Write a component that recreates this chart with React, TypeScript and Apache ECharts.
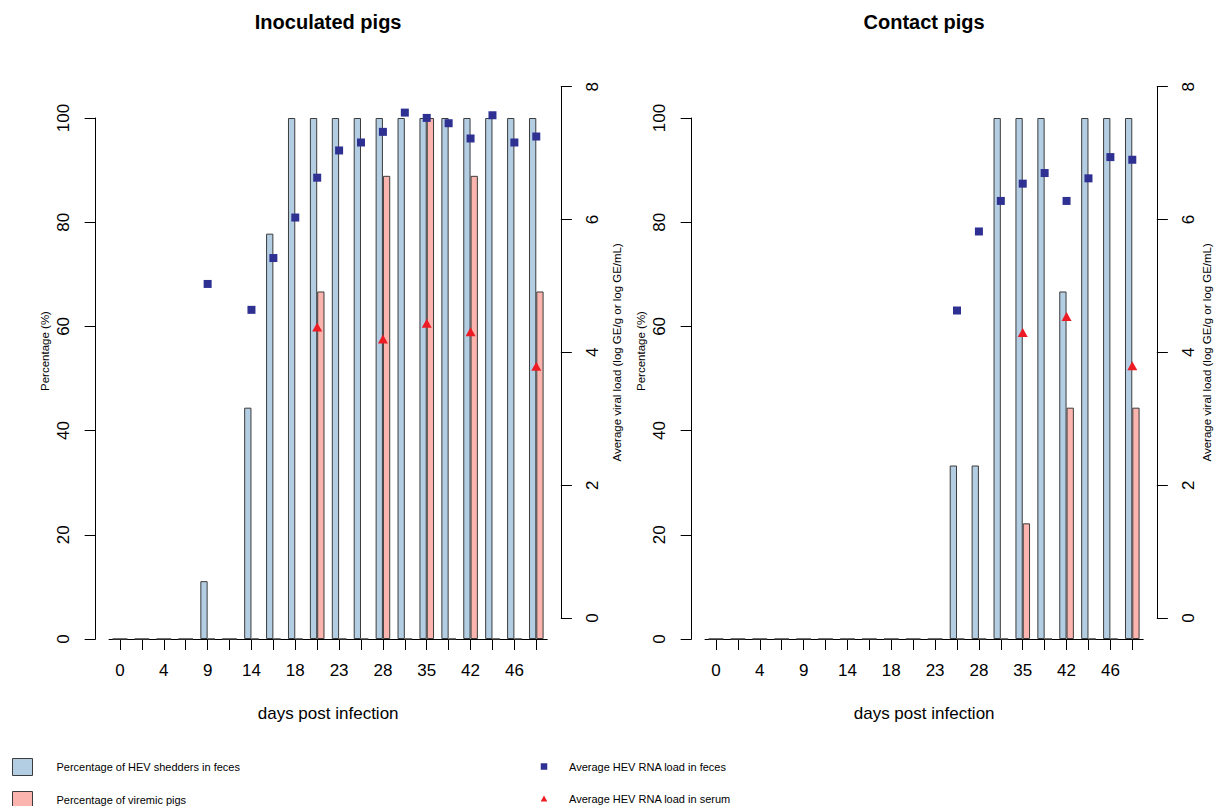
import React, { useEffect, useRef } from 'react';
import * as echarts from 'echarts';

// ---- data ----
const days = ['0', '2', '4', '7', '9', '11', '14', '16', '18', '21', '23', '25', '28', '32', '35', '39', '42', '44', '46', '49'];

const inocShedders = [0, 0, 0, 0, 11.1, 0, 44.4, 77.8, 100, 100, 100, 100, 100, 100, 100, 100, 100, 100, 100, 100];
const inocViremic = [0, 0, 0, 0, 0, 0, 0, 0, 0, 66.7, 0, 0, 88.9, 0, 100, 0, 88.9, 0, 0, 66.7];
const inocFecesLoad = [null, null, null, null, 5.03, null, 4.64, 5.42, 6.03, 6.63, 7.04, 7.16, 7.32, 7.61, 7.53, 7.45, 7.22, 7.57, 7.16, 7.25];
const inocSerumLoad = [null, null, null, null, null, null, null, null, null, 4.38, null, null, 4.2, null, 4.44, null, 4.31, null, null, 3.79];

const contShedders = [0, 0, 0, 0, 0, 0, 0, 0, 0, 0, 0, 33.3, 33.3, 100, 100, 100, 66.7, 100, 100, 100];
const contViremic = [0, 0, 0, 0, 0, 0, 0, 0, 0, 0, 0, 0, 0, 0, 22.2, 0, 44.4, 0, 0, 44.4];
const contFecesLoad = [null, null, null, null, null, null, null, null, null, null, null, 4.63, 5.82, 6.28, 6.54, 6.7, 6.28, 6.62, 6.94, 6.9];
const contSerumLoad = [null, null, null, null, null, null, null, null, null, null, null, null, null, null, 4.3, null, 4.54, null, null, 3.8];

const panelTitles = ['Inoculated pigs', 'Contact pigs'];
const xTitle = 'days post infection';
const yLeftTitle = 'Percentage (%)';
const yRightTitle = 'Average viral load (log GE/g or log GE/mL)';
const nameShed = 'Percentage of HEV shedders in feces';
const nameVir = 'Percentage of viremic pigs';
const nameFeces = 'Average HEV RNA load in feces';
const nameSerum = 'Average HEV RNA load in serum';

const FONT = '"Liberation Sans", Arial, Helvetica, sans-serif';
const BLUE = '#B3CDE3';
const PINK = '#FBB4AE';
const NAVY = '#2E3192';
const RED = '#ED1C24';
const EDGE = '#3c3c3c';

export default function App() {
  const ref = useRef<HTMLDivElement>(null);

  useEffect(() => {
    const chart = echarts.init(ref.current!, null, { renderer: 'svg' });
    const step = 21.91;
    const firstTicks = [120, 716];
    const rightNameGaps = [50, 44];
    const panelData = [
      { shed: inocShedders, vir: inocViremic, feces: inocFecesLoad, serum: inocSerumLoad },
      { shed: contShedders, vir: contViremic, feces: contFecesLoad, serum: contSerumLoad },
    ];

    const grid: any[] = [];
    const xAxis: any[] = [];
    const yAxis: any[] = [];
    const series: any[] = [];
    const graphic: any[] = [];
    const title: any[] = [];

    panelData.forEach((p, i) => {
      const left = firstTicks[i] - step / 2;
      const width = step * days.length;
      const center = left + width / 2;
      grid.push({ left, width, top: 118, height: 521, containLabel: false, outerBoundsMode: 'none' });
      grid.push({ left, width, top: 86.7, height: 531.3, containLabel: false, outerBoundsMode: 'none' });
      const gBar = i * 2;
      const gPt = i * 2 + 1;

      xAxis.push({
        type: 'category',
        gridIndex: gBar,
        data: days,
        boundaryGap: true,
        axisLine: { show: true, lineStyle: { color: '#000', width: 1 } },
        axisTick: { show: true, alignWithLabel: true, interval: 0, length: 11, lineStyle: { color: '#000' } },
        axisLabel: { interval: 1, margin: 23, fontSize: 17, color: '#000', fontFamily: FONT },
        name: xTitle,
        nameLocation: 'middle',
        nameGap: 66,
        nameTextStyle: { fontSize: 17, color: '#000', fontFamily: FONT },
      });
      xAxis.push({ type: 'category', gridIndex: gPt, data: days, boundaryGap: true, show: false });

      yAxis.push({
        type: 'value',
        gridIndex: gBar,
        min: 0,
        max: 100,
        interval: 20,
        position: 'left',
        offset: 13.4,
        axisLine: { show: true, lineStyle: { color: '#000', width: 1 } },
        axisTick: { show: true, length: 11, lineStyle: { color: '#000' } },
        axisLabel: { rotate: 90, margin: 24, fontSize: 17, color: '#000', fontFamily: FONT },
        splitLine: { show: false },
      });
      yAxis.push({
        type: 'value',
        gridIndex: gPt,
        min: 0,
        max: 8,
        interval: 2,
        position: 'right',
        offset: 13.6,
        axisLine: { show: true, lineStyle: { color: '#000', width: 1 } },
        axisTick: { show: true, length: 11, lineStyle: { color: '#000' } },
        axisLabel: { rotate: 90, margin: 23, fontSize: 17, color: '#000', fontFamily: FONT },
        splitLine: { show: false },
        name: yRightTitle,
        nameLocation: 'middle',
        nameRotate: 90,
        nameGap: rightNameGaps[i],
        nameTextStyle: { fontSize: 11.5, color: '#000', fontFamily: FONT },
      });

      series.push({
        type: 'bar',
        name: nameShed,
        xAxisIndex: gBar,
        yAxisIndex: gBar,
        data: p.shed,
        barWidth: 7.3,
        barGap: '0%',
        itemStyle: { color: BLUE, borderColor: EDGE, borderWidth: 1 },
      });
      series.push({
        type: 'bar',
        name: nameVir,
        xAxisIndex: gBar,
        yAxisIndex: gBar,
        data: p.vir,
        barWidth: 7.3,
        barGap: '0%',
        itemStyle: { color: PINK, borderColor: EDGE, borderWidth: 1 },
      });
      series.push({
        type: 'scatter',
        name: nameFeces,
        xAxisIndex: gPt,
        yAxisIndex: gPt,
        data: p.feces,
        symbol: 'rect',
        symbolSize: 8,
        itemStyle: { color: NAVY, opacity: 1 },
      });
      series.push({
        type: 'scatter',
        name: nameSerum,
        xAxisIndex: gPt,
        yAxisIndex: gPt,
        data: p.serum,
        symbol: 'triangle',
        symbolSize: [10, 9],
        itemStyle: { color: RED, opacity: 1 },
      });

      title.push({
        text: panelTitles[i],
        left: center,
        top: 12,
        textAlign: 'center',
        padding: 0,
        textStyle: { fontSize: 20, fontWeight: 'bold', color: '#000', fontFamily: FONT },
      });

      graphic.push({
        type: 'text',
        x: left - 13.4 - 50.5,
        y: 351,
        rotation: Math.PI / 2,
        style: { text: yLeftTitle, font: `11.5px ${FONT}`, fill: '#000', align: 'center', verticalAlign: 'middle' },
      });
    });

    const option: any = {
      animation: false,
      backgroundColor: '#fff',
      title,
      grid,
      xAxis,
      yAxis,
      series,
      graphic,
      legend: [
        {
          data: [nameShed, nameVir],
          orient: 'vertical',
          left: 12,
          top: 758,
          padding: 0,
          itemWidth: 20,
          itemHeight: 17,
          itemGap: 15,
          icon: 'rect',
          selectedMode: false,
          itemStyle: { borderColor: EDGE, borderWidth: 1 },
          textStyle: { fontSize: 11, color: '#000', fontFamily: FONT, padding: [0, 0, 0, 19] },
        },
        {
          data: [
            { name: nameFeces, icon: 'path://M0,0M20,17M6.75,5.25h6.5v6.5h-6.5z' },
            { name: nameSerum, icon: 'path://M0,0M20,17M10,5.5L13.3,11.5H6.7Z' },
          ],
          orient: 'vertical',
          left: 534,
          top: 758,
          padding: 0,
          itemWidth: 20,
          itemHeight: 17,
          itemGap: 15,
          selectedMode: false,
          itemStyle: { borderWidth: 0, opacity: 1 },
          textStyle: { fontSize: 11, color: '#000', fontFamily: FONT, padding: [0, 0, 0, 10] },
        },
      ],
    };
    chart.setOption(option);
    return () => chart.dispose();
  }, []);

  return (
    <div
      ref={ref}
      style={{ position: 'fixed', left: 0, top: 0, width: 1215, height: 840, background: '#fff' }}
    />
  );
}
